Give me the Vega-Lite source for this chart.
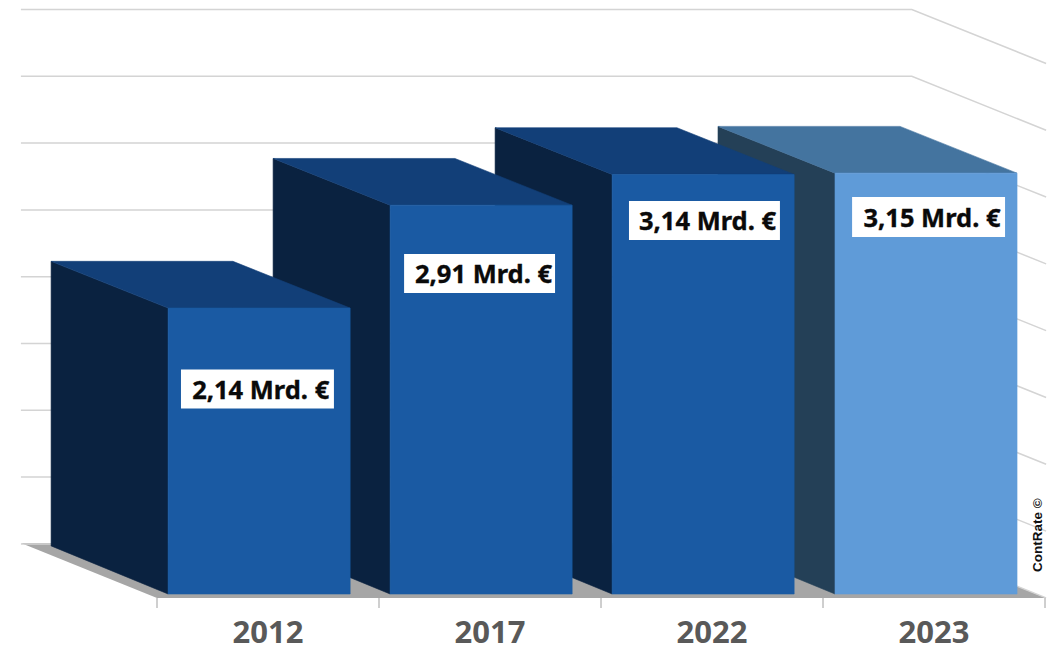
{
"$schema":"https://vega.github.io/schema/vega-lite/v6.json",
"width":1055,"height":645,"padding":0,"autosize":{"type":"none"},
"background":"white",
"view":{"stroke":null},
"datasets":{
"floor":[{"u":-0.613,"y":0.382,"y2":0.382},{"u":0,"y":0.382,"y2":-0.03},{"u":3.4,"y":0.382,"y2":-0.03},{"u":4.005,"y":-0.03,"y2":-0.03}],
"grid":[
{"level":0,"u":-0.613,"y":0.375},{"level":0,"u":3.4,"y":0.375},{"level":0,"u":4.005,"y":-0.029},
{"level":0.5,"u":-0.613,"y":0.875},{"level":0.5,"u":3.4,"y":0.875},{"level":0.5,"u":4.005,"y":0.471},
{"level":1,"u":-0.613,"y":1.375},{"level":1,"u":3.4,"y":1.375},{"level":1,"u":4.005,"y":0.971},
{"level":1.5,"u":-0.613,"y":1.875},{"level":1.5,"u":3.4,"y":1.875},{"level":1.5,"u":4.005,"y":1.471},
{"level":2,"u":-0.613,"y":2.375},{"level":2,"u":3.4,"y":2.375},{"level":2,"u":4.005,"y":1.971},
{"level":2.5,"u":-0.613,"y":2.875},{"level":2.5,"u":3.4,"y":2.875},{"level":2.5,"u":4.005,"y":2.471},
{"level":3,"u":-0.613,"y":3.375},{"level":3,"u":3.4,"y":3.375},{"level":3,"u":4.005,"y":2.971},
{"level":3.5,"u":-0.613,"y":3.875},{"level":3.5,"u":3.4,"y":3.875},{"level":3.5,"u":4.005,"y":3.471},
{"level":4,"u":-0.613,"y":4.375},{"level":4,"u":3.4,"y":4.375},{"level":4,"u":4.005,"y":3.971}
],
"faces":[
{"id":"2023-left","face":"left light","u":2.527,"y":3.5,"y2":0.36},{"id":"2023-left","face":"left light","u":3.054,"y":3.15,"y2":0},
{"id":"2023-top","face":"top light","u":2.527,"y":3.5,"y2":3.5},{"id":"2023-top","face":"top light","u":3.054,"y":3.5,"y2":3.15},{"id":"2023-top","face":"top light","u":3.347,"y":3.5,"y2":3.15},{"id":"2023-top","face":"top light","u":3.874,"y":3.15,"y2":3.15},
{"id":"2023-front","face":"front light","u":3.054,"y":3.15,"y2":0},{"id":"2023-front","face":"front light","u":3.874,"y":3.15,"y2":0},
{"id":"2022-left","face":"left","u":1.523,"y":3.49,"y2":0.36},{"id":"2022-left","face":"left","u":2.05,"y":3.14,"y2":0},
{"id":"2022-top","face":"top","u":1.523,"y":3.49,"y2":3.49},{"id":"2022-top","face":"top","u":2.05,"y":3.49,"y2":3.14},{"id":"2022-top","face":"top","u":2.342,"y":3.49,"y2":3.14},{"id":"2022-top","face":"top","u":2.87,"y":3.14,"y2":3.14},
{"id":"2022-front","face":"front","u":2.05,"y":3.14,"y2":0},{"id":"2022-front","face":"front","u":2.87,"y":3.14,"y2":0},
{"id":"2017-left","face":"left","u":0.523,"y":3.26,"y2":0.36},{"id":"2017-left","face":"left","u":1.05,"y":2.91,"y2":0},
{"id":"2017-top","face":"top","u":0.523,"y":3.26,"y2":3.26},{"id":"2017-top","face":"top","u":1.05,"y":3.26,"y2":2.91},{"id":"2017-top","face":"top","u":1.342,"y":3.26,"y2":2.91},{"id":"2017-top","face":"top","u":1.87,"y":2.91,"y2":2.91},
{"id":"2017-front","face":"front","u":1.05,"y":2.91,"y2":0},{"id":"2017-front","face":"front","u":1.87,"y":2.91,"y2":0},
{"id":"2012-left","face":"left","u":-0.477,"y":2.49,"y2":0.36},{"id":"2012-left","face":"left","u":0.05,"y":2.14,"y2":0},
{"id":"2012-top","face":"top","u":-0.477,"y":2.49,"y2":2.49},{"id":"2012-top","face":"top","u":0.05,"y":2.49,"y2":2.14},{"id":"2012-top","face":"top","u":0.342,"y":2.49,"y2":2.14},{"id":"2012-top","face":"top","u":0.87,"y":2.14,"y2":2.14},
{"id":"2012-front","face":"front","u":0.05,"y":2.14,"y2":0},{"id":"2012-front","face":"front","u":0.87,"y":2.14,"y2":0}
],
"bars":[
{"year":"2012","value":2.14,"label":"2,14 Mrd. €","slot":0.5,"lu":0.467,"lv":1.517,"u1":0.108,"u2":0.797,"v1":1.388,"v2":1.68},
{"year":"2017","value":2.91,"label":"2,91 Mrd. €","slot":1.5,"lu":1.471,"lv":2.386,"u1":1.113,"u2":1.793,"v1":2.253,"v2":2.545},
{"year":"2022","value":3.14,"label":"3,14 Mrd. €","slot":2.5,"lu":2.48,"lv":2.782,"u1":2.126,"u2":2.806,"v1":2.65,"v2":2.942},
{"year":"2023","value":3.15,"label":"3,15 Mrd. €","slot":3.5,"lu":3.491,"lv":2.805,"u1":3.131,"u2":3.82,"v1":2.672,"v2":2.972}
],
"ticks":[{"u":0},{"u":1},{"u":2},{"u":3},{"u":4}],
"credit":[{"u":3.97,"y":0.44,"text":"ContRate ©"}]
},
"layer":[
{"data":{"name":"floor"},"mark":{"type":"area","color":"#a6a6a6"},
 "encoding":{"x":{"field":"u","type":"quantitative","scale":{"domain":[-0.7072,4.045],"nice":false,"zero":false},"axis":null},
 "y":{"field":"y","type":"quantitative","scale":{"domain":[-0.3817,4.446],"nice":false,"zero":false},"axis":null},"y2":{"field":"y2"}}},
{"data":{"name":"grid"},"mark":{"type":"line","color":"#d4d4d4","strokeWidth":1.5},
 "encoding":{"x":{"field":"u","type":"quantitative"},"y":{"field":"y","type":"quantitative"},"detail":{"field":"level","type":"nominal"}}},
{"data":{"name":"ticks"},"mark":{"type":"rule","color":"#bfbfbf","strokeWidth":1.5},
 "encoding":{"x":{"field":"u","type":"quantitative"},"y":{"datum":-0.03,"type":"quantitative"},"y2":{"datum":-0.105}}},
{"data":{"name":"faces"},"mark":{"type":"area","opacity":1,"strokeWidth":0.6},
 "encoding":{"x":{"field":"u","type":"quantitative"},"y":{"field":"y","type":"quantitative"},"y2":{"field":"y2"},
 "detail":{"field":"id","type":"nominal"},
 "color":{"field":"face","type":"nominal","legend":null,
  "scale":{"domain":["front","left","top","front light","left light","top light"],"range":["#1a5aa3","#0a2240","#123f78","#5f9bd8","#244057","#44749f"]}},
 "stroke":{"field":"face","type":"nominal","legend":null,
  "scale":{"domain":["front","left","top","front light","left light","top light"],"range":["#1a5aa3","#0a2240","#123f78","#5f9bd8","#244057","#44749f"]}}}},
{"data":{"name":"bars"},"mark":{"type":"rect","color":"white"},
 "encoding":{"x":{"field":"u1","type":"quantitative"},"x2":{"field":"u2"},"y":{"field":"v1","type":"quantitative"},"y2":{"field":"v2"}}},
{"data":{"name":"bars"},"mark":{"type":"text","font":"Noto Sans","fontWeight":"bold","fontSize":25.5,"color":"#0a0a0a","stroke":"#0a0a0a","strokeWidth":0.35,"align":"center","baseline":"middle"},
 "encoding":{"x":{"field":"lu","type":"quantitative"},"y":{"field":"lv","type":"quantitative"},"text":{"field":"label"}}},
{"data":{"name":"bars"},"mark":{"type":"text","font":"Noto Sans","fontWeight":"bold","fontSize":31,"color":"#595959","align":"center","baseline":"middle"},
 "encoding":{"x":{"field":"slot","type":"quantitative"},"y":{"datum":-0.296,"type":"quantitative"},"text":{"field":"year"}}},
{"data":{"name":"credit"},"mark":{"type":"text","font":"Liberation Sans","fontWeight":"bold","fontSize":13.5,"color":"#111111","angle":270,"align":"center","baseline":"middle"},
 "encoding":{"x":{"field":"u","type":"quantitative"},"y":{"field":"y","type":"quantitative"},"text":{"field":"text"}}}
]
}
